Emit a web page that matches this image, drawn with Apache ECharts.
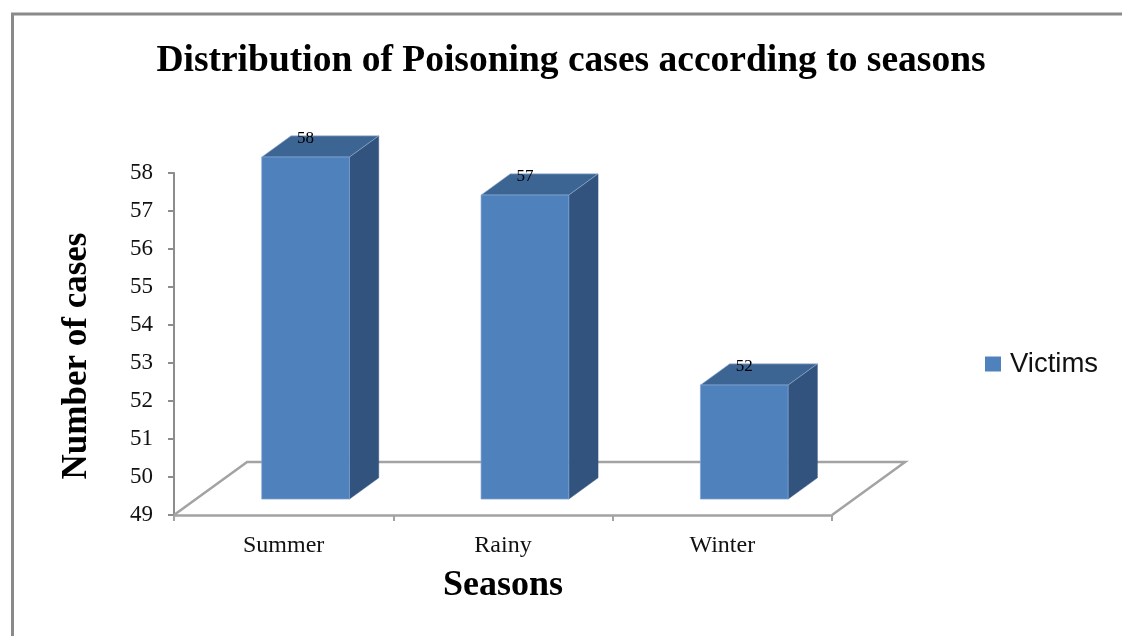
<!DOCTYPE html>
<html>
<head>
<meta charset="utf-8">
<script src="https://cdn.jsdelivr.net/npm/echarts@6/dist/echarts.min.js"></script>
<style>
html,body{margin:0;padding:0;background:#fff;}
#chart{width:1122px;height:636px;}
</style>
</head>
<body>
<div id="chart"></div>
<script>
const titleText = 'Distribution of Poisoning cases according to seasons';
const categories = ['Summer', 'Rainy', 'Winter'];
const victims = [58, 57, 52];
const seriesName = 'Victims';
const yMin = 49;
const yMax = 58;
const yInterval = 1;
const xAxisTitle = 'Seasons';
const yAxisTitle = 'Number of cases';

const FRONT = '#4f81bd', TOP = '#3d6594', SIDE = '#32537e';
const serif = "'Liberation Serif','Times New Roman',serif";

// depth geometry (relative to category band width)
const DEPTH_X = 1 / 3, DEPTH_Y = -0.242;   // full floor depth
const BAR_D0 = 0.3, BAR_D1 = 0.7;           // bar occupies this depth range
const BAR_W = 0.4;                           // bar width as share of band

const chart = echarts.init(document.getElementById('chart'), null, {renderer: 'canvas'});

function floorItem(params, api) {
  const cs = params.coordSys;
  const bw = api.size([1, 0])[0];
  const dx = bw * DEPTH_X, dy = bw * DEPTH_Y;
  const x0 = cs.x, x1 = cs.x + cs.width, y0 = cs.y + cs.height;
  return {
    type: 'polyline',
    shape: {points: [[x1, y0], [x1 + dx, y0 + dy], [x0 + dx, y0 + dy], [x0, y0]]},
    style: {stroke: '#a3a3a3', lineWidth: 2.5, fill: null},
    z2: 0
  };
}

function barItem(params, api) {
  const idx = api.value(0), val = api.value(1);
  const base = api.coord([idx, yMin]);
  const top = api.coord([idx, val]);
  const bw = api.size([1, 0])[0];
  const dx = bw * DEPTH_X, dy = bw * DEPTH_Y;
  const fx = dx * BAR_D0, fy = dy * BAR_D0;
  const bx = dx * (BAR_D1 - BAR_D0), by = dy * (BAR_D1 - BAR_D0);
  const w = bw * BAR_W;
  const cx = base[0] + fx;
  const l = cx - w / 2, r = cx + w / 2;
  const yt = top[1] + fy, yb = base[1] + fy;
  return {
    type: 'group',
    children: [
      {type: 'polygon', shape: {points: [[r, yt], [r + bx, yt + by], [r + bx, yb + by], [r, yb]]},
        style: {fill: SIDE, stroke: SIDE, lineWidth: 0.5}},
      {type: 'polygon', shape: {points: [[l, yt], [r, yt], [r + bx, yt + by], [l + bx, yt + by]]},
        style: {fill: TOP, stroke: 'rgba(160,185,215,0.6)', lineWidth: 1}},
      {type: 'rect', shape: {x: l, y: yt, width: w, height: yb - yt},
        style: {fill: FRONT, stroke: 'rgba(130,165,210,0.7)', lineWidth: 1}},
      {type: 'text', x: cx, y: yt + by + 3,
        style: {text: String(val), fill: '#000', font: "17px 'Liberation Serif','Times New Roman',serif",
          align: 'center', verticalAlign: 'middle'}}
    ]
  };
}

const option = {
  animation: false,
  backgroundColor: '#fff',
  graphic: [{
    type: 'rect', silent: true, z: -10,
    shape: {x: 12.5, y: 14, width: 1200, height: 700},
    style: {fill: null, stroke: '#8a8a8a', lineWidth: 3}
  }],
  title: {
    text: titleText,
    left: 566, top: 37, textAlign: 'center',
    textStyle: {fontFamily: serif, fontWeight: 'bold', fontSize: 37.5, color: '#000'}
  },
  legend: {
    data: [{name: seriesName, icon: 'rect'}],
    left: 980, top: 345,
    itemWidth: 16, itemHeight: 15,
    textStyle: {fontFamily: "'Liberation Sans',Arial,sans-serif", fontSize: 27.5, color: '#111', padding: [0, 0, 0, 4]}
  },
  grid: {left: 174, right: 290, top: 173, bottom: 121, containLabel: false},
  xAxis: {
    type: 'category',
    data: categories,
    boundaryGap: true,
    name: xAxisTitle,
    nameLocation: 'middle',
    nameGap: 53,
    nameTextStyle: {fontFamily: serif, fontWeight: 'bold', fontSize: 36, color: '#000'},
    axisLine: {lineStyle: {color: '#a3a3a3', width: 2.5}},
    axisTick: {show: true, length: 6, lineStyle: {color: '#a3a3a3', width: 2}},
    axisLabel: {fontFamily: serif, fontSize: 24, color: '#111', margin: 19},
    splitLine: {show: false}
  },
  yAxis: {
    type: 'value',
    min: yMin, max: yMax, interval: yInterval,
    name: yAxisTitle,
    nameLocation: 'middle',
    nameRotate: 90,
    nameGap: 80,
    nameTextStyle: {fontFamily: serif, fontWeight: 'bold', fontSize: 35, color: '#000', padding: [0, 24, 0, 0]},
    axisLine: {show: true, lineStyle: {color: '#8c8c8c', width: 2}},
    axisTick: {show: true, length: 6, lineStyle: {color: '#8c8c8c', width: 2}},
    axisLabel: {fontFamily: serif, fontSize: 23, color: '#111', margin: 21},
    splitLine: {show: false}
  },
  series: [
    {
      type: 'custom',
      name: 'floor',
      renderItem: floorItem,
      data: [[0, yMin]],
      encode: {x: 0, y: 1},
      silent: true,
      z: 1
    },
    {
      type: 'custom',
      name: seriesName,
      renderItem: barItem,
      data: victims.map((v, i) => [i, v]),
      encode: {x: 0, y: 1},
      itemStyle: {color: FRONT},
      z: 2
    }
  ]
};
chart.setOption(option);
</script>
</body>
</html>
